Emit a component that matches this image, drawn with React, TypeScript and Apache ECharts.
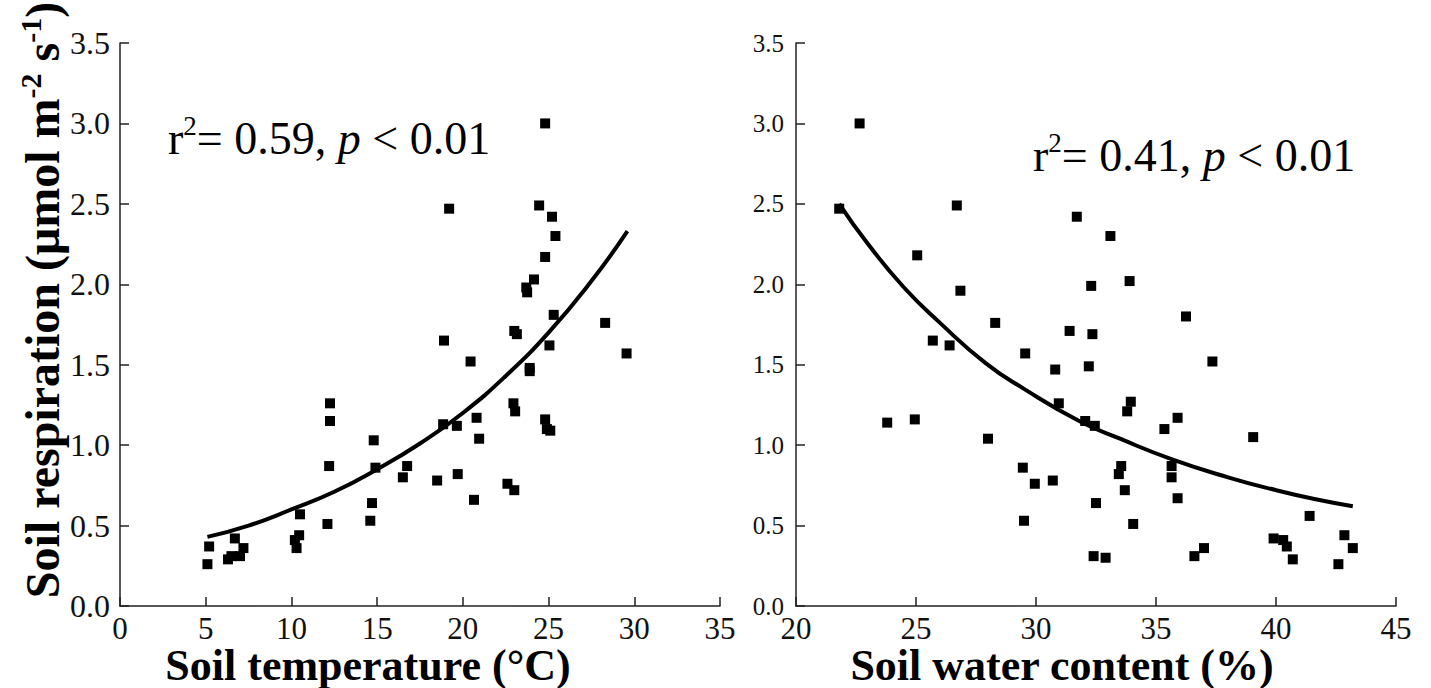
import React, { useEffect, useRef } from 'react';
import * as echarts from 'echarts';

// Soil temperature (°C) vs soil respiration
const tempPoints: [number, number][] = [
  [5.1, 0.26], [5.2, 0.37], [6.3, 0.29], [6.5, 0.31], [6.7, 0.42], [7.0, 0.31], [7.2, 0.36],
  [10.2, 0.41], [10.3, 0.36], [10.45, 0.44], [10.5, 0.57], [12.1, 0.51], [12.2, 0.87],
  [12.25, 1.15], [12.25, 1.26], [14.6, 0.53], [14.7, 0.64], [14.8, 1.03], [14.9, 0.86],
  [16.5, 0.80], [16.75, 0.87], [18.5, 0.78], [18.85, 1.13], [18.9, 1.65], [19.2, 2.47],
  [19.65, 1.12], [19.7, 0.82], [20.45, 1.52], [20.65, 0.66], [20.8, 1.17], [20.95, 1.04],
  [22.6, 0.76], [22.95, 1.26], [23.0, 0.72], [23.05, 1.21], [23.0, 1.71], [23.15, 1.69],
  [23.7, 1.98], [23.75, 1.95], [23.9, 1.48], [23.9, 1.46], [24.15, 2.03], [24.45, 2.49],
  [24.8, 3.0], [24.8, 2.17], [24.8, 1.16], [24.9, 1.10], [25.05, 1.62], [25.1, 1.09],
  [25.2, 2.42], [25.3, 1.81], [25.4, 2.30], [28.3, 1.76], [29.55, 1.57],
];
const tempFit: [number, number][] = [
  [5.1, 0.43], [7.5, 0.50], [10, 0.60], [12.5, 0.71], [15, 0.85], [17.5, 1.01],
  [20, 1.20], [22.5, 1.43], [25, 1.70], [27.5, 2.02], [29.6, 2.33],
];

// Soil water content (%) vs soil respiration
const waterPoints: [number, number][] = [
  [21.8, 2.47], [22.65, 3.0], [23.8, 1.14], [24.95, 1.16], [25.05, 2.18], [25.7, 1.65],
  [26.4, 1.62], [26.7, 2.49], [26.85, 1.96], [28.0, 1.04], [28.3, 1.76], [29.45, 0.86],
  [29.5, 0.53], [29.55, 1.57], [29.95, 0.76], [30.7, 0.78], [30.8, 1.47], [30.95, 1.26],
  [31.4, 1.71], [31.7, 2.42], [32.05, 1.15], [32.2, 1.49], [32.3, 1.99], [32.35, 1.69],
  [32.4, 0.31], [32.45, 1.12], [32.5, 0.64], [32.9, 0.30], [33.1, 2.30], [33.45, 0.82],
  [33.55, 0.87], [33.7, 0.72], [33.8, 1.21], [33.9, 2.02], [33.95, 1.27], [34.05, 0.51],
  [35.35, 1.10], [35.65, 0.87], [35.65, 0.80], [35.9, 1.17], [35.9, 0.67], [36.25, 1.80],
  [36.6, 0.31], [37.0, 0.36], [37.35, 1.52], [39.05, 1.05], [39.9, 0.42], [40.3, 0.41],
  [40.45, 0.37], [40.7, 0.29], [41.4, 0.56], [42.6, 0.26], [42.85, 0.44], [43.2, 0.36],
];
const waterFit: [number, number][] = [
  [21.8, 2.50], [23.0, 2.25], [24.5, 1.98], [26.0, 1.76], [27.9, 1.51], [29.5, 1.35],
  [31.8, 1.15], [33.5, 1.04], [35.7, 0.91], [38.0, 0.80], [40.0, 0.72], [41.6, 0.665], [43.2, 0.62],
];

const FONT = '"Liberation Serif", "Times New Roman", serif';
const AXIS_COLOR = '#222';

function xAxisCfg(grid: number, min: number, max: number) {
  return {
    gridIndex: grid, type: 'value', min, max, interval: 5,
    axisLine: { show: true, lineStyle: { color: AXIS_COLOR, width: 1.5 } },
    axisTick: { show: true, inside: true, length: 9, lineStyle: { color: AXIS_COLOR, width: 1.5 } },
    axisLabel: { fontFamily: FONT, fontSize: 31, lineHeight: 26, color: '#111', margin: 9 },
    splitLine: { show: false },
  };
}
function yAxisCfg(grid: number, fontSize: number, margin: number) {
  return {
    gridIndex: grid, type: 'value', min: 0, max: 3.5, interval: 0.5,
    axisLine: { show: true, lineStyle: { color: AXIS_COLOR, width: 1.5 } },
    axisTick: { show: true, inside: true, length: 9, lineStyle: { color: AXIS_COLOR, width: 1.5 } },
    axisLabel: { fontFamily: FONT, fontSize, color: '#111', margin, formatter: (v: number) => v.toFixed(1) },
    splitLine: { show: false },
  };
}

function annot(x: number, y: number, value: string) {
  return {
    type: 'text', x, y,
    style: {
      text: `{r|r}{s|2}{n|= ${value}, }{i|p}{n| < 0.01}`,
      align: 'left', verticalAlign: 'middle', fill: '#000',
      rich: {
        r: { fontFamily: FONT, fontSize: 46, lineHeight: 52, fill: '#000' },
        s: { fontFamily: FONT, fontSize: 27, lineHeight: 52, verticalAlign: 'top', fill: '#000' },
        n: { fontFamily: FONT, fontSize: 46, lineHeight: 52, fill: '#000' },
        i: { fontFamily: FONT, fontSize: 46, lineHeight: 52, fontStyle: 'italic', fill: '#000' },
      },
    },
  };
}

export default function App() {
  const ref = useRef<HTMLDivElement>(null);
  useEffect(() => {
    if (!ref.current) return;
    const chart = echarts.init(ref.current, undefined, { renderer: 'svg' });
    const bold = { fontFamily: FONT, fontSize: 44, fontWeight: 'bold', fill: '#000' };
    const scatterStyle = { color: '#000', opacity: 1 };
    chart.setOption({
      animation: false,
      backgroundColor: '#fff',
      grid: [
        { left: 120, top: 43, width: 600, height: 563 },
        { left: 796, top: 43, width: 600, height: 563 },
      ],
      xAxis: [xAxisCfg(0, 0, 35), xAxisCfg(1, 20, 45)],
      yAxis: [yAxisCfg(0, 32, 10), yAxisCfg(1, 25, 12)],
      series: [
        { type: 'scatter', xAxisIndex: 0, yAxisIndex: 0, data: tempPoints, symbol: 'rect', symbolSize: 10, itemStyle: scatterStyle },
        { type: 'line', xAxisIndex: 0, yAxisIndex: 0, data: tempFit, smooth: true, showSymbol: false, lineStyle: { color: '#000', width: 4 } },
        { type: 'scatter', xAxisIndex: 1, yAxisIndex: 1, data: waterPoints, symbol: 'rect', symbolSize: 10, itemStyle: scatterStyle },
        { type: 'line', xAxisIndex: 1, yAxisIndex: 1, data: waterFit, smooth: true, showSymbol: false, lineStyle: { color: '#000', width: 4 } },
      ],
      graphic: [
        annot(168, 138, '0.59'),
        annot(1033, 155, '0.41'),
        {
          type: 'text', x: 42, y: 300, rotation: Math.PI / 2,
          style: {
            text: '{a|Soil respiration (μmol m}{s|-2}{a| s}{s|-1}{a|)}',
            align: 'center', verticalAlign: 'middle', fill: '#000',
            rich: {
              a: { ...bold, fontSize: 48, lineHeight: 54 },
              s: { ...bold, fontSize: 30, lineHeight: 54, verticalAlign: 'top' },
            },
          },
        },
        { type: 'text', x: 368, y: 665, style: { ...bold, lineHeight: 34, text: 'Soil temperature (°C)', align: 'center', verticalAlign: 'middle' } },
        { type: 'text', x: 1062, y: 665, style: { ...bold, lineHeight: 34, text: 'Soil water content (%)', align: 'center', verticalAlign: 'middle' } },
      ],
    });
    return () => chart.dispose();
  }, []);
  return <div ref={ref} style={{ position: 'absolute', left: 0, top: 0, width: 1431, height: 688 }} />;
}
